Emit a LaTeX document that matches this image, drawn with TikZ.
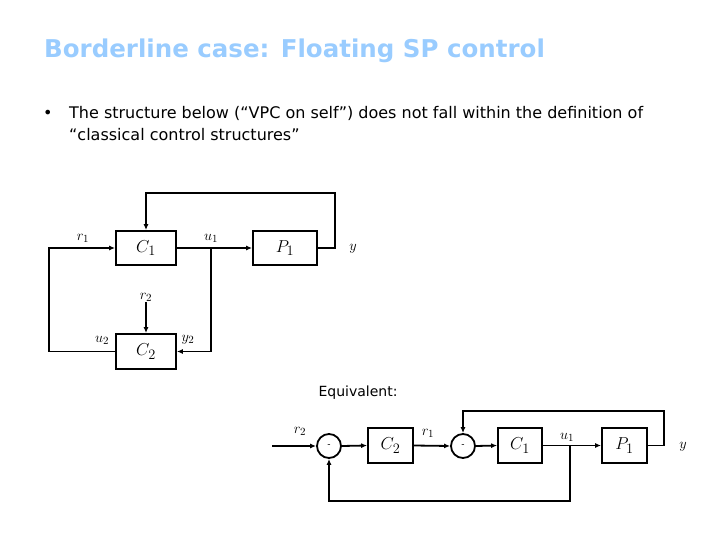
\documentclass[tikz,border=0pt]{standalone}
\usepackage{fontspec}
\setmainfont{DejaVu Sans}
\newfontfamily\titlefont{DejaVu Sans}
\usetikzlibrary{arrows.meta}
\definecolor{titleblue}{RGB}{153,204,255}
\begin{document}
\begin{tikzpicture}[x=1pt,y=-1pt,
  blk/.style={draw,line width=1.8pt,minimum height=34pt,inner sep=0pt},
  sumc/.style={draw,circle,line width=1.8pt,minimum size=24pt,inner sep=0pt,font=\fontsize{9}{10}\selectfont},
  arr/.style={line width=1.8pt,-{Latex[length=6pt,width=5pt]}},
  lab/.style={inner sep=0pt,font=\fontsize{15}{17}\selectfont},
  blab/.style={font=\fontsize{19}{21}\selectfont}]
\useasboundingbox (0,0) rectangle (720,540);
\node[anchor=base west,inner sep=0pt,text=titleblue,font=\titlefont\bfseries\fontsize{24.5}{28}\selectfont] (title) at (44,58) {Borderline case: Floating SP control};
\node[anchor=base west,inner sep=0pt,font=\fontsize{16}{20}\selectfont] (bul) at (43,119) {•};
\node[anchor=base west,inner sep=0pt,font=\fontsize{16}{20}\selectfont] (l1) at (69,119) {The structure below (“VPC on self”) does not fall within the definition of};
\node[anchor=base west,inner sep=0pt,font=\fontsize{16}{20}\selectfont] (l2) at (69,141) {“classical control structures”};

% upper diagram
\node[blk,minimum width=60pt,blab] (C1) at (146,248) {$C_1$};
\node[blk,minimum width=64pt,blab] (P1) at (285,248) {$P_1$};
\node[blk,minimum width=60pt,minimum height=35pt,blab] (C2) at (146,351.5) {$C_2$};
\coordinate (ju) at (211,248);
\coordinate (r2in) at (146,302);
\draw[arr] (C2.west) -| (49,248) -- (C1.west);
\draw[arr] (C1.east) -- (P1.west);
\draw[arr] (ju) |- (C2.east);
\draw[arr] (P1.east) -| (335,193) -| (C1.north);
\draw[arr] (r2in) -- (C2.north);
\node[lab] (lr1) at (83,238) {$r_1$};
\node[lab] (lu1) at (211,238) {$u_1$};
\node[lab] (ly) at (353,249) {$y$};
\node[lab] (lr2) at (146,297) {$r_2$};
\node[lab] (lu2) at (102,340) {$u_2$};
\node[lab] (ly2) at (188,340) {$y_2$};

\node[anchor=base,inner sep=0pt,font=\fontsize{14}{16}\selectfont] (eq) at (358,396) {Equivalent:};

% lower diagram
\coordinate (in) at (272,446);
\node[sumc] (S1) at (329,446) {-};
\node[blk,minimum width=45pt,minimum height=35pt,blab] (D2) at (390.5,445.5) {$C_2$};
\node[sumc] (S2) at (463,446) {-};
\node[blk,minimum width=44pt,minimum height=35pt,blab] (D1) at (520,445.5) {$C_1$};
\node[blk,minimum width=45pt,minimum height=35pt,blab] (Q1) at (624.5,445.5) {$P_1$};
\coordinate (jl) at (570,446);
\draw[arr] (in) -- (S1.west);
\draw[arr] (S1.east) -- (D2.west);
\draw[arr] (D2.east) -- (S2.west);
\draw[arr] (S2.east) -- (D1.west);
\draw[arr] (D1.east) -- (Q1.west);
\draw[arr] (Q1.east) -| (664,411) -| (S2.north);
\draw[arr] (jl) |- (329,501) -- (S1.south);
\node[lab] (mr2) at (300,431) {$r_2$};
\node[lab] (mr1) at (428,433) {$r_1$};
\node[lab] (mu1) at (567,437) {$u_1$};
\node[lab] (my) at (683,447) {$y$};
\end{tikzpicture}
\end{document}
